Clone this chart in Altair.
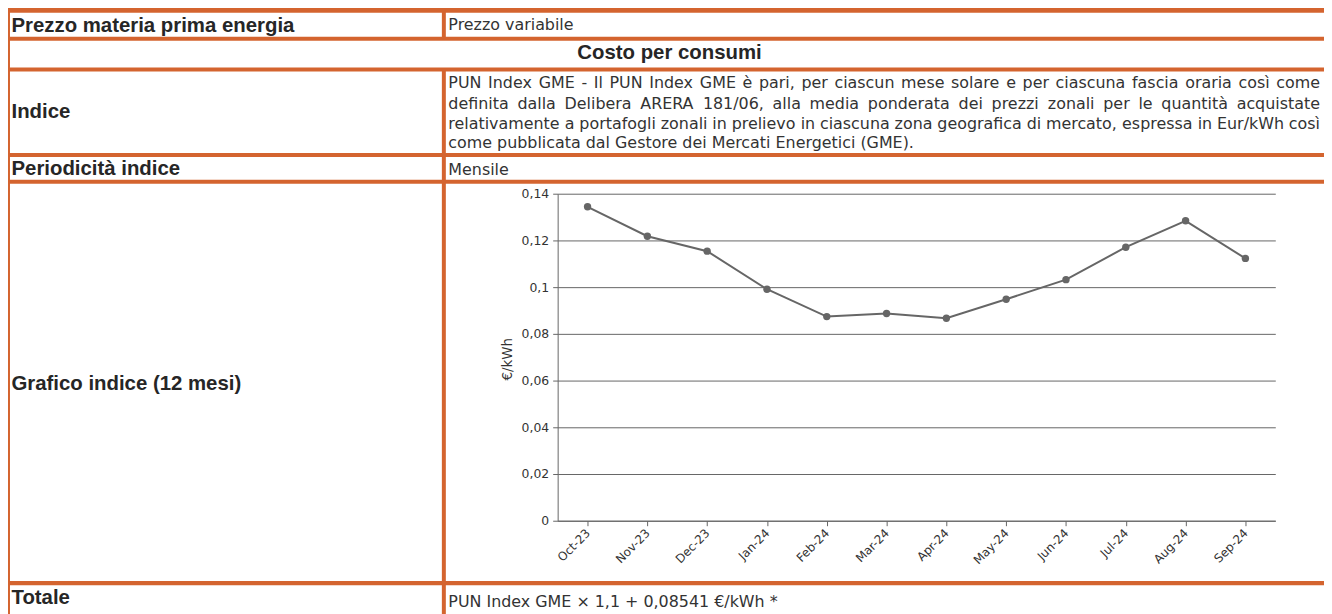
import altair as alt
import pandas as pd

# ---------------- data ----------------
months = ["Oct-23", "Nov-23", "Dec-23", "Jan-24", "Feb-24", "Mar-24",
          "Apr-24", "May-24", "Jun-24", "Jul-24", "Aug-24", "Sep-24"]
pun_values = [0.1344, 0.1218, 0.1154, 0.0991, 0.0874, 0.0887,
              0.0867, 0.0948, 0.1032, 0.1171, 0.1284, 0.1123]
y_ticks = [0, 0.02, 0.04, 0.06, 0.08, 0.1, 0.12, 0.14]
y_title = "€/kWh"

row_labels = ["Prezzo materia prima energia", "Indice", "Periodicità indice",
              "Grafico indice (12 mesi)", "Totale"]
section_title = "Costo per consumi"
price_type = "Prezzo variabile"
index_lines = [
    "PUN Index GME - Il PUN Index GME è pari, per ciascun mese solare e per ciascuna fascia oraria così come",
    "definita dalla Delibera ARERA 181/06, alla media ponderata dei prezzi zonali per le quantità acquistate",
    "relativamente a portafogli zonali in prelievo in ciascuna zona geografica di mercato, espressa in Eur/kWh così",
    "come pubblicata dal Gestore dei Mercati Energetici (GME).",
]
periodicity = "Mensile"
total_formula = "PUN Index GME × 1,1 + 0,08541 €/kWh *"

df = pd.DataFrame({"month": months, "value": pun_values})
dummy = pd.DataFrame({"k": [0]})

# ---------------- layout (page pixels) ----------------
ORANGE = "#D4642F"
GRAY = "#666666"
TXT_B = "#262626"
TXT_R = "#333333"
BOLD_FONT = "Liberation Sans"
REG_FONT = "DejaVu Sans"

SVG_W, SVG_H = 1324, 606
OX, OY = 561, 193            # plot-area origin on the page
PW, PH = 722, 329            # plot-area size

# approximate advance widths (em) of DejaVu Sans, used only to justify the paragraph
_W = {" ": .318, "a": .613, "b": .635, "c": .550, "d": .635, "e": .615, "f": .352,
      "g": .635, "h": .634, "i": .278, "j": .278, "k": .579, "l": .278, "m": .974,
      "n": .634, "o": .612, "p": .635, "q": .635, "r": .411, "s": .521, "t": .392,
      "u": .634, "v": .592, "w": .818, "x": .592, "y": .592, "z": .525,
      "è": .615, "à": .613, "ì": .278, "ò": .612, "ù": .634,
      "A": .684, "D": .770, "E": .632, "G": .775, "I": .295, "M": .863, "N": .748,
      "P": .603, "R": .695, "U": .732, "W": .989,
      ",": .318, ".": .318, "-": .361, "/": .337, "(": .390, ")": .390}


def text_w(s, size):
    return sum(_W.get(ch, .636) for ch in s) * size


def box(x0, x1, y0, y1):
    return alt.Chart(dummy).mark_rect(color=ORANGE).encode(
        x=alt.value(x0 - OX), x2=alt.value(x1 - OX),
        y=alt.value(y0 - OY), y2=alt.value(y1 - OY))


def label(txt, x, y, size, bold=False, align="left"):
    return alt.Chart(dummy).mark_text(
        align=align, baseline="alphabetic",
        font=BOLD_FONT if bold else REG_FONT, fontSize=size,
        fontWeight="bold" if bold else "normal",
        color=TXT_B if bold else TXT_R).encode(
        x=alt.value(x - OX), y=alt.value(y - OY), text=alt.value(txt))


layers = [
    box(0, 1345, 0, 11),
    box(6, 1345, 35, 39),
    box(6, 1345, 66, 70),
    box(6, 1345, 152, 156),
    box(6, 1345, 179, 183),
    box(6, 1345, 582.7, 586.9),
    box(6, 10, 0, 620),
    box(444.5, 448.5, 8, 37),
    box(444.5, 448.5, 68, 620),
]

BS = 20.5
label_baselines = [30, 117, 174, 390.7, 605.6]
for t, yb in zip(row_labels, label_baselines):
    layers.append(label(t, 11.5, yb, BS, bold=True))
layers.append(label(section_title, 673.5, 57, BS, bold=True, align="center"))

RS = 16
layers.append(label(price_type, 451, 28.3, RS))
layers.append(label(periodicity, 451, 174.3, RS))
layers.append(label(total_formula, 451, 608.3, RS))

# justified paragraph (last line left aligned)
PAR_L, PAR_R = 451, 1328
para_baselines = [87, 107.3, 127.8, 147.5]
for i, (ln, yb) in enumerate(zip(index_lines, para_baselines)):
    if i == len(index_lines) - 1:
        layers.append(label(ln, PAR_L, yb, RS))
        continue
    words = ln.split(" ")
    ww = [text_w(w, RS) for w in words]
    gap = (PAR_R - PAR_L - sum(ww)) / (len(words) - 1)
    x = PAR_L
    for w, wd in zip(words, ww):
        layers.append(label(w, x, yb, RS))
        x += wd + gap

# ---------------- the index chart ----------------
x_enc = alt.X("month:N", sort=months,
              scale=alt.Scale(type="point", padding=0.5, domain=months),
              axis=alt.Axis(title=None, grid=False, domain=True, domainColor=GRAY,
                            domainWidth=1, ticks=True, tickSize=5, tickColor=GRAY,
                            labelAngle=315, labelAlign="right", labelBaseline="middle",
                            labelPadding=5, labelFont=REG_FONT, labelFontSize=12,
                            labelColor=TXT_R))
y_enc = alt.Y("value:Q",
              scale=alt.Scale(domain=[0, 0.14], nice=False, zero=True),
              axis=alt.Axis(values=y_ticks, title=y_title,
                            labelExpr="replace(format(datum.value, '~g'), '.', ',')",
                            grid=True, gridColor=GRAY, gridWidth=1,
                            domain=True, domainColor=GRAY, domainWidth=1,
                            ticks=True, tickSize=5, tickColor=GRAY,
                            labelFont=REG_FONT, labelFontSize=12.5, labelColor=TXT_R,
                            labelPadding=4,
                            titleFont=REG_FONT, titleFontSize=13.5,
                            titleFontWeight="normal", titleColor=TXT_R,
                            titleAngle=270, titleX=-50, titleY=166,
                            titleAlign="center", titleBaseline="middle"))

line = alt.Chart(df).mark_line(color=GRAY, strokeWidth=2).encode(x=x_enc, y=y_enc)
pts = alt.Chart(df).mark_point(filled=True, size=55, color=GRAY, opacity=1).encode(
    x=alt.X("month:N", sort=months), y="value:Q")

chart = alt.layer(*layers, line, pts).properties(
    width=PW, height=PH,
    padding={"left": OX - 8, "top": OY - 8,
             "right": SVG_W - (OX - 8) - PW, "bottom": SVG_H - (OY - 8) - PH},
    autosize=alt.AutoSizeParams(type="none"),
    background="white",
).configure_view(stroke=None)

chart.save("out.html", embed_options={"renderer": "svg", "actions": False})
